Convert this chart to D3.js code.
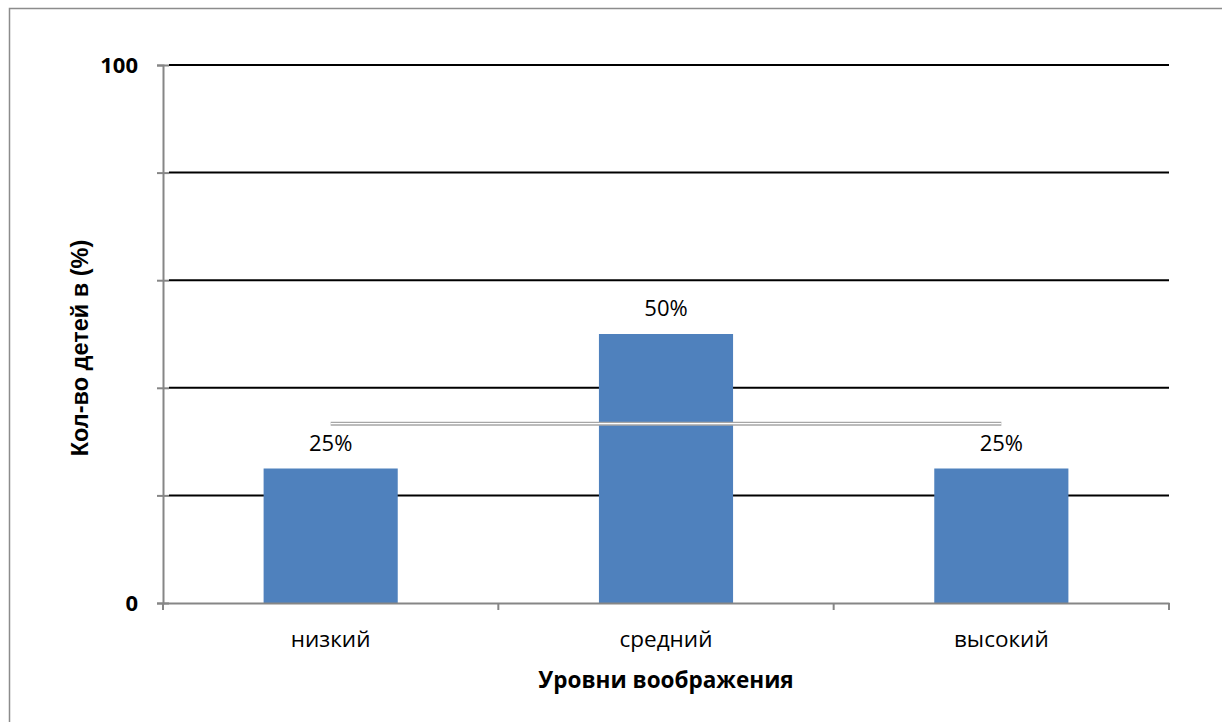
<!DOCTYPE html>
<html>
<head>
<meta charset="utf-8">
<script src="https://cdn.jsdelivr.net/npm/d3@7"></script>
<style>
  body { margin: 0; background: #fff; }
  svg { display: block; }
</style>
</head>
<body>
<svg id="chart" width="1222" height="722"></svg>
<script>
const categories = ["низкий", "средний", "высокий"];
const values = [25, 50, 25];
const gridTicks = [0, 20, 40, 60, 80, 100];
const labelTicks = [0, 100];
const xTitle = "Уровни воображения";
const yTitle = "Кол-во детей в (%)";

const svg = d3.select("#chart");
const font = "'Open Sans', 'Noto Sans', sans-serif";
const margin = {left: 163, right: 1169, top: 65, bottom: 603};

// outer frame, running off the right and bottom edges
svg.append("rect")
    .attr("x", 9.5).attr("y", 8.5)
    .attr("width", 1240).attr("height", 740)
    .attr("fill", "none")
    .attr("stroke", "#8c8c8c")
    .attr("stroke-width", 1.5);

const x = d3.scaleBand()
    .domain(categories)
    .range([margin.left, margin.right])
    .paddingInner(0.6)
    .paddingOuter(0.3);

const y = d3.scaleLinear()
    .domain([0, 100])
    .range([margin.bottom, margin.top]);

// gridlines
svg.append("g")
    .selectAll("line")
    .data(gridTicks.filter(d => d > 0))
    .enter().append("line")
    .attr("x1", margin.left + 6).attr("x2", margin.right)
    .attr("y1", d => y(d)).attr("y2", d => y(d))
    .attr("stroke", "#000")
    .attr("stroke-width", 2);

// bars
svg.append("g")
    .selectAll("rect")
    .data(values)
    .enter().append("rect")
    .attr("x", (d, i) => x(categories[i]))
    .attr("y", d => y(d))
    .attr("width", x.bandwidth())
    .attr("height", d => y(0) - y(d))
    .attr("fill", "#4f81bd");

// mean line
const mean = d3.mean(values);
const cx = c => x(c) + x.bandwidth() / 2;
const x1 = cx(categories[0]), x2 = cx(categories[categories.length - 1]);
svg.append("line")
    .attr("x1", x1).attr("x2", x2)
    .attr("y1", y(mean)).attr("y2", y(mean))
    .attr("stroke", "#a6a6a6").attr("stroke-width", 4);
svg.append("line")
    .attr("x1", x1).attr("x2", x2)
    .attr("y1", y(mean)).attr("y2", y(mean))
    .attr("stroke", "#fff").attr("stroke-width", 1.3);

// value labels
svg.append("g")
    .selectAll("text")
    .data(values)
    .enter().append("text")
    .attr("x", (d, i) => cx(categories[i]))
    .attr("y", d => y(d) - 18)
    .attr("text-anchor", "middle")
    .attr("font-family", font)
    .attr("font-size", 22)
    .attr("fill", "#000")
    .text(d => d + "%");

// y axis
const yAxis = svg.append("g")
    .attr("transform", `translate(${margin.left},0)`)
    .call(d3.axisLeft(y).tickValues(gridTicks).tickSize(6).tickFormat(""));
yAxis.select(".domain").attr("stroke", "#868686").attr("stroke-width", 2);
yAxis.selectAll(".tick line").attr("stroke", "#868686").attr("stroke-width", 2)
    .attr("x2", -6).attr("x1", 6);

svg.append("g")
    .selectAll("text")
    .data(labelTicks)
    .enter().append("text")
    .attr("x", margin.left - 25)
    .attr("y", d => y(d))
    .attr("dy", "0.35em")
    .attr("text-anchor", "end")
    .attr("font-family", font)
    .attr("font-weight", "bold")
    .attr("font-size", 22)
    .text(d => d);

// x axis
const xAxis = svg.append("g")
    .attr("transform", `translate(0,${margin.bottom})`)
    .call(d3.axisBottom(x).tickSize(0).tickFormat(""));
xAxis.select(".domain").attr("stroke", "#868686").attr("stroke-width", 2);
xAxis.selectAll(".tick line").remove();

const seps = x.domain().map(c => x(c) - x.step() * x.paddingInner() / 2)
    .concat([margin.right]);
seps[0] = margin.left;
svg.append("g")
    .selectAll("line")
    .data(seps)
    .enter().append("line")
    .attr("x1", d => d).attr("x2", d => d)
    .attr("y1", margin.bottom).attr("y2", margin.bottom + 7)
    .attr("stroke", "#868686").attr("stroke-width", 2);

svg.append("g")
    .selectAll("text")
    .data(categories)
    .enter().append("text")
    .attr("x", d => cx(d))
    .attr("y", margin.bottom + 44)
    .attr("text-anchor", "middle")
    .attr("font-family", font)
    .attr("font-size", 22.5)
    .text(d => d);

// titles
svg.append("text")
    .attr("x", (margin.left + margin.right) / 2)
    .attr("y", 688)
    .attr("text-anchor", "middle")
    .attr("font-family", font)
    .attr("font-weight", "bold")
    .attr("font-size", 22.5)
    .text(xTitle);

svg.append("text")
    .attr("transform", `translate(88,${(margin.top + margin.bottom) / 2 + 14}) rotate(-90)`)
    .attr("text-anchor", "middle")
    .attr("font-family", "'Liberation Sans', Arial, sans-serif")
    .attr("font-weight", "bold")
    .attr("font-size", 23.5)
    .text(yTitle);
</script>
</body>
</html>
